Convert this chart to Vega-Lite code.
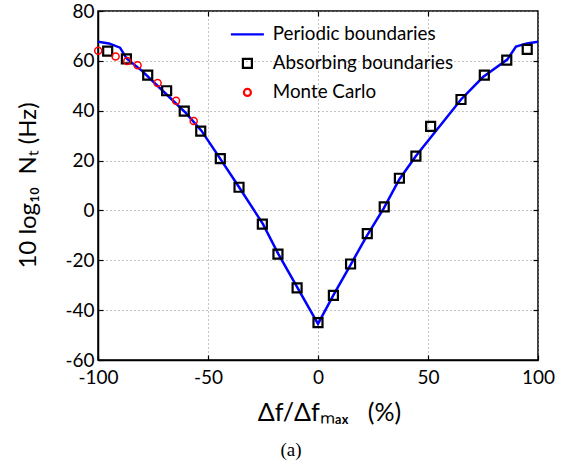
{
  "$schema": "https://vega.github.io/schema/vega-lite/v6.json",
  "width": 440,
  "height": 349,
  "autosize": {"type": "none"},
  "padding": {"left": 98, "top": 11, "right": 38, "bottom": 104},
  "background": "white",
  "title": {"text": "(a)", "orient": "bottom", "anchor": "middle", "dx": -27, "offset": 16, "font": "Liberation Serif", "fontSize": 19, "fontWeight": "normal", "color": "black"},
  "config": {
    "view": {"stroke": "black", "strokeWidth": 1.5},
    "axis": {"labelFont": "Lato", "labelFontSize": 19, "labelColor": "black", "titleFont": "Lato", "titleColor": "black", "titleFontWeight": "normal", "domainColor": "black", "domainWidth": 1.5, "tickColor": "black", "tickSize": -5, "tickWidth": 1.2, "gridColor": "#888888", "gridDash": [1, 3], "gridWidth": 1, "gridOpacity": 1, "labelExpr": "(datum.value < 0 ? '-' : '') + abs(datum.value)"},
    "legend": {"labelFont": "Lato", "labelFontSize": 18.8, "labelColor": "black", "labelLimit": 300}
  },
  "data": {"values": [
    {"series": "Periodic boundaries", "x": -100, "y": 67.7},
    {"series": "Periodic boundaries", "x": -95, "y": 67},
    {"series": "Periodic boundaries", "x": -90, "y": 65.3},
    {"series": "Periodic boundaries", "x": -87, "y": 61},
    {"series": "Periodic boundaries", "x": -80, "y": 56},
    {"series": "Periodic boundaries", "x": -70, "y": 47.5},
    {"series": "Periodic boundaries", "x": -60, "y": 39},
    {"series": "Periodic boundaries", "x": -53, "y": 32},
    {"series": "Periodic boundaries", "x": -45, "y": 21.5},
    {"series": "Periodic boundaries", "x": -36, "y": 9.5},
    {"series": "Periodic boundaries", "x": -25, "y": -5.5},
    {"series": "Periodic boundaries", "x": -18, "y": -17.5},
    {"series": "Periodic boundaries", "x": -10, "y": -30},
    {"series": "Periodic boundaries", "x": 0, "y": -45.5},
    {"series": "Periodic boundaries", "x": 7, "y": -34},
    {"series": "Periodic boundaries", "x": 15, "y": -21.5},
    {"series": "Periodic boundaries", "x": 22, "y": -10.5},
    {"series": "Periodic boundaries", "x": 30, "y": 1},
    {"series": "Periodic boundaries", "x": 37, "y": 12.5},
    {"series": "Periodic boundaries", "x": 44.5, "y": 21.8},
    {"series": "Periodic boundaries", "x": 65, "y": 44.5},
    {"series": "Periodic boundaries", "x": 75, "y": 53.5},
    {"series": "Periodic boundaries", "x": 86, "y": 60.5},
    {"series": "Periodic boundaries", "x": 90, "y": 65.7},
    {"series": "Periodic boundaries", "x": 95, "y": 67},
    {"series": "Periodic boundaries", "x": 100, "y": 67.7},
    {"series": "Absorbing boundaries", "x": -95.6, "y": 63.9},
    {"series": "Absorbing boundaries", "x": -87.1, "y": 60.8},
    {"series": "Absorbing boundaries", "x": -77.4, "y": 54.3},
    {"series": "Absorbing boundaries", "x": -68.8, "y": 48.0},
    {"series": "Absorbing boundaries", "x": -60.8, "y": 39.8},
    {"series": "Absorbing boundaries", "x": -53.3, "y": 31.8},
    {"series": "Absorbing boundaries", "x": -44.4, "y": 20.8},
    {"series": "Absorbing boundaries", "x": -35.9, "y": 9.3},
    {"series": "Absorbing boundaries", "x": -25.3, "y": -5.5},
    {"series": "Absorbing boundaries", "x": -18.2, "y": -17.5},
    {"series": "Absorbing boundaries", "x": -9.5, "y": -31.1},
    {"series": "Absorbing boundaries", "x": 0, "y": -45},
    {"series": "Absorbing boundaries", "x": 7, "y": -34.1},
    {"series": "Absorbing boundaries", "x": 14.8, "y": -21.5},
    {"series": "Absorbing boundaries", "x": 22.4, "y": -9.3},
    {"series": "Absorbing boundaries", "x": 30.1, "y": 1.4},
    {"series": "Absorbing boundaries", "x": 37.0, "y": 12.9},
    {"series": "Absorbing boundaries", "x": 44.5, "y": 21.8},
    {"series": "Absorbing boundaries", "x": 51.2, "y": 33.7},
    {"series": "Absorbing boundaries", "x": 65, "y": 44.5},
    {"series": "Absorbing boundaries", "x": 75.6, "y": 54.3},
    {"series": "Absorbing boundaries", "x": 85.8, "y": 60.3},
    {"series": "Absorbing boundaries", "x": 95.1, "y": 64.6},
    {"series": "Monte Carlo", "x": -99.9, "y": 64.1},
    {"series": "Monte Carlo", "x": -92, "y": 61.7},
    {"series": "Monte Carlo", "x": -86.7, "y": 59.9},
    {"series": "Monte Carlo", "x": -82, "y": 58.2},
    {"series": "Monte Carlo", "x": -72.9, "y": 51.1},
    {"series": "Monte Carlo", "x": -64.5, "y": 44.0},
    {"series": "Monte Carlo", "x": -56.5, "y": 35.9}
  ]},
  "resolve": {"axis": {"x": "independent", "y": "independent"}},
  "layer": [
    {
      "transform": [{"filter": "datum.series === 'Periodic boundaries'"}],
      "mark": {"type": "line", "strokeWidth": 2.5, "clip": true},
      "encoding": {
        "x": {"field": "x", "type": "quantitative", "scale": {"domain": [-100, 100], "nice": false, "zero": false},
              "axis": {"values": [-100, -50, 0, 50, 100], "title": "Δf/Δfₘₐₓ\u00a0\u00a0\u00a0(%)", "titleFontSize": 25, "titleX": 231, "titleY": 52, "titleBaseline": "middle", "titleAnchor": "start", "titleAlign": "center", "labelPadding": 13, "labelFlush": false}},
        "y": {"field": "y", "type": "quantitative", "scale": {"domain": [-60, 80], "nice": false, "zero": false},
              "axis": {"values": [-60, -40, -20, 0, 20, 40, 60, 80], "title": "10 log₁₀\u00a0\u00a0Nₜ (Hz)", "titleFontSize": 24, "titleX": -70, "titleY": 174, "titleAngle": -90, "titleAlign": "center", "titleBaseline": "middle", "titleAnchor": "start", "labelPadding": 9}},
        "color": {"field": "series", "type": "nominal",
                  "scale": {"domain": ["Periodic boundaries", "Absorbing boundaries", "Monte Carlo"], "range": ["#0000ff", "#000000", "#ff0000"]},
                  "legend": {"title": null, "orient": "none", "legendX": 140, "legendY": 14, "padding": 0, "symbolSize": 100, "symbolStrokeWidth": 2.2, "labelOffset": 16, "rowPadding": 9, "labelFontSize": 18.8}}
      }
    },
    {
      "transform": [{"filter": "datum.series === 'Absorbing boundaries'"}],
      "mark": {"type": "point", "filled": false, "strokeWidth": 2.2, "size": 100, "opacity": 1},
      "encoding": {
        "x": {"field": "x", "type": "quantitative", "scale": {"domain": [-100, 100], "nice": false, "zero": false},
              "axis": {"orient": "top", "values": [-50, 0, 50], "labels": false, "title": null, "grid": false, "domain": false}},
        "y": {"field": "y", "type": "quantitative", "scale": {"domain": [-60, 80], "nice": false, "zero": false},
              "axis": {"orient": "right", "values": [-40, -20, 0, 20, 40, 60], "labels": false, "title": null, "grid": false, "domain": false}},
        "color": {"field": "series", "type": "nominal", "legend": {"title": null}},
        "shape": {"field": "series", "type": "nominal",
                  "scale": {"domain": ["Periodic boundaries", "Absorbing boundaries", "Monte Carlo"], "range": ["M-3.3,0H3.3", "M-0.9,-0.9H0.9V0.9H-0.9Z", "M-0.7,0A0.7,0.7,0,1,0,0.7,0A0.7,0.7,0,1,0,-0.7,0Z"]},
                  "legend": {"title": null}}
      }
    },
    {
      "transform": [{"filter": "datum.series === 'Monte Carlo'"}],
      "mark": {"type": "point", "filled": false, "strokeWidth": 1.5, "size": 100, "opacity": 1},
      "encoding": {
        "x": {"field": "x", "type": "quantitative", "scale": {"domain": [-100, 100], "nice": false, "zero": false}, "axis": null},
        "y": {"field": "y", "type": "quantitative", "scale": {"domain": [-60, 80], "nice": false, "zero": false}, "axis": null},
        "color": {"field": "series", "type": "nominal", "legend": {"title": null}},
        "shape": {"field": "series", "type": "nominal", "legend": {"title": null}}
      }
    }
  ]
}
